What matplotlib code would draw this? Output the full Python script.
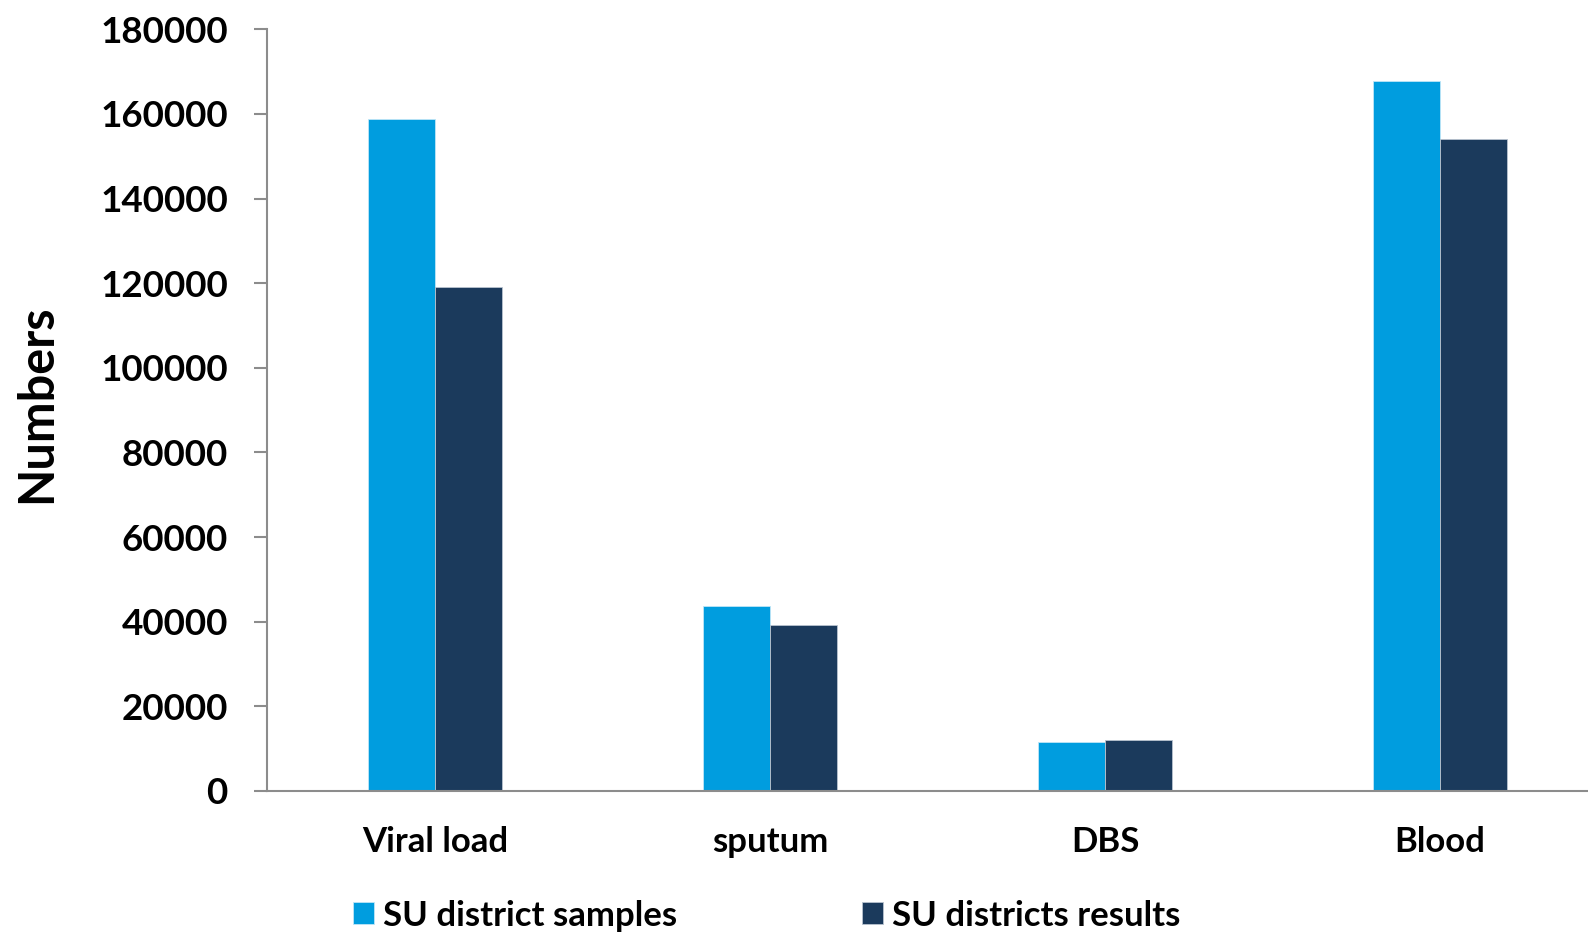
import numpy as np
import matplotlib
matplotlib.use("Agg")
import matplotlib.pyplot as plt

# data
categories = ["Viral load", "sputum", "DBS", "Blood"]
samples = [158800, 43700, 11500, 167900]
results = [119000, 39300, 12000, 154200]
series_names = ["SU district samples", "SU districts results"]
yticks = [0, 20000, 40000, 60000, 80000, 100000, 120000, 140000, 160000, 180000]

light_blue = "#009ddf"
dark_blue = "#1b3a5c"
axis_grey = "#8c8c8c"

plt.rcParams['font.family'] = ['Lato', 'DejaVu Sans']
plt.rcParams['font.weight'] = 'bold'

fig = plt.figure(figsize=(15.88, 9.32), dpi=100)
# the plot area runs a little past the right edge of the picture
ax = fig.add_axes([0.1684, 0.1513, 0.844, 0.8172])

x = np.arange(len(categories))
w = 0.2
b1 = ax.bar(x - w / 2, samples, width=w, color=light_blue,
            edgecolor="#bfe6f7", linewidth=0.6, label=series_names[0])
b2 = ax.bar(x + w / 2, results, width=w, color=dark_blue,
            edgecolor="#b9c3cf", linewidth=0.6, label=series_names[1])

ax.set_xlim(-0.5, len(categories) - 0.5)
ax.set_ylim(0, 180000)
ax.set_yticks(yticks)
ax.set_yticklabels([str(v) for v in yticks], fontsize=26.5, fontweight='bold')
ax.set_xticks(x)
ax.set_xticklabels(categories, fontsize=25, fontweight='bold')

for s in ["top", "right"]:
    ax.spines[s].set_visible(False)
for s in ["left", "bottom"]:
    ax.spines[s].set_color(axis_grey)
    ax.spines[s].set_linewidth(1.5)

ax.tick_params(axis='y', length=9.5, width=1.5, color=axis_grey, pad=19)
ax.tick_params(axis='x', length=0, pad=25)

fig.text(0.023, 0.567, "Numbers", rotation=90, ha='center', va='center',
         fontsize=35, fontweight='bold')

fig.legend(handles=[b1, b2], labels=series_names, loc='center',
           bbox_to_anchor=(0.4828, 0.0175), ncol=2, frameon=False,
           prop={'size': 25, 'weight': 'bold'},
           handlelength=0.6, handleheight=0.6, handletextpad=0.25,
           columnspacing=5.35)

fig.savefig("out.png", dpi=100)
